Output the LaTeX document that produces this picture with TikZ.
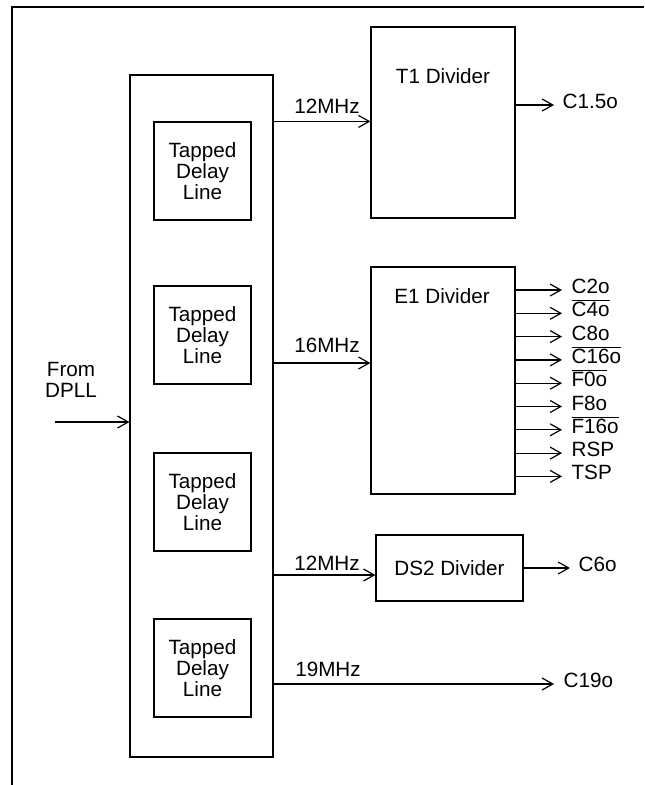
\documentclass[tikz,border=0pt]{standalone}
\usepackage{fontspec}
\setmainfont{Liberation Sans}
\usetikzlibrary{arrows.meta}

\begin{document}
\begin{tikzpicture}[x=.75pt,y=-.75pt,>={Straight Barb[length=8pt,width=9pt]},line width=.9pt,
  font=\fontsize{15.5}{16}\selectfont,
  blk/.style n args={2}{draw,rectangle,inner sep=0pt,minimum width=#1*.75pt,minimum height=#2*.75pt},
  tap/.style={blk={97}{98},align=center},
  sig/.style={anchor=mid west,inner sep=0pt}]
  \useasboundingbox (0,0) rectangle (644,785);
  % outer frame, cut by the page
  \draw (12,785) -- (12,7) -- (644,7);
  % delay lines
  \node[blk={143}{682}] (dly) at (201.5,416) {};
  \node[tap] (tap1) at (202.5,171) {Tapped\\Delay\\Line};
  \node[tap] (tap2) at (202.5,335) {Tapped\\Delay\\Line};
  \node[tap] (tap3) at (202.5,502) {Tapped\\Delay\\Line};
  \node[tap] (tap4) at (202.5,668) {Tapped\\Delay\\Line};
  \coordinate (dpll) at (55,422);
  \draw[->] (dpll) -- (dly.west |- dpll);
  \node[align=center] (dplllab) at (71,380) {From\\DPLL};
  % dividers
  \node[blk={144}{191}] (t1) at (443,122.5) {};
  \node (t1lab) at (443,76) {T1 Divider};
  \node[blk={144}{227}] (e1) at (443,380.5) {};
  \node (e1lab) at (442,296) {E1 Divider};
  \node[blk={147}{66}] (ds2) at (449.5,568) {DS2 Divider};
  % clocks into the dividers
  \coordinate (y16) at (0,363);
  \coordinate (y12) at (0,575);
  \draw[->] (dly.east |- tap1.north) -- (t1.west |- tap1.north);
  \node (f12a) at (327,106) {12MHz};
  \draw[->] (dly.east |- y16) -- (e1.west |- y16);
  \node (f16) at (327,345) {16MHz};
  \draw[->] (dly.east |- y12) -- (ds2.west |- y12);
  \node (f12b) at (327,563) {12MHz};
  \coordinate (c19t) at (554,684);
  \draw[->] (dly.east |- c19t) -- (c19t);
  \node (f19) at (328,669) {19MHz};
  \node[sig] (c19) at (563,684) {C19o};
  % divider outputs
  \coordinate (c15t) at (554,105);
  \draw[->] (t1.east |- c15t) -- (c15t);
  \node[sig] (c15) at (562,105) {C1.5o};
  \coordinate (c6t) at (570,568);
  \draw[->] (ds2.east |- c6t) -- (c6t);
  \node[sig] (c6) at (578,568) {C6o};
  \foreach \sig [count=\i from 0] in {C2o,{$\overline{\mbox{C4o}}$},C8o,{$\overline{\mbox{C16o}}$},
      {$\overline{\mbox{F0o}}$},F8o,{$\overline{\mbox{F16o}}$},RSP,TSP}{
    \coordinate (e1t\i) at (562,{290+23.3*\i});
    \draw[->] (e1.east |- e1t\i) -- (e1t\i);
    \node[sig] (e1s\i) at (571,{290+23.3*\i}) {\sig};
  }
\end{tikzpicture}
\end{document}
